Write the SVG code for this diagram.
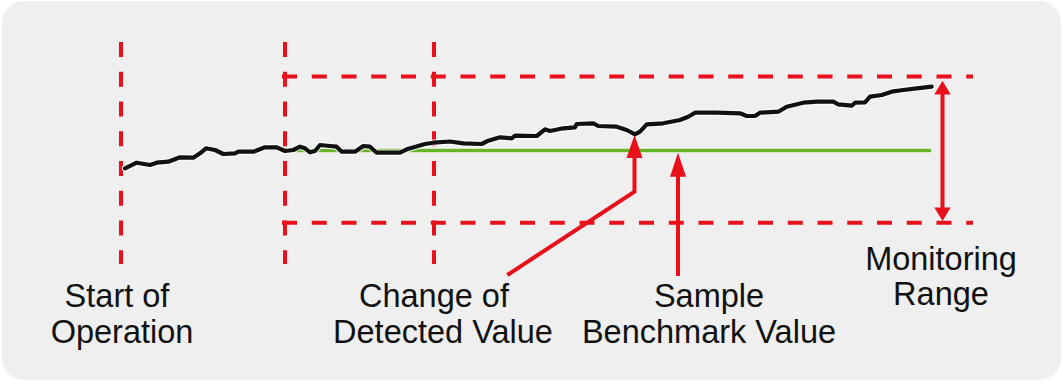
<svg xmlns="http://www.w3.org/2000/svg" width="1063" height="387" viewBox="0 0 1063 387">
  <defs>
    <style>
      .dash { stroke: #e8101a; stroke-width: 4; stroke-dasharray: 15 14.75; fill: none; }
      .arr { stroke: #e8101a; stroke-width: 4; fill: none; stroke-linejoin: miter; }
      .head { fill: #e8101a; }
      .lbl { font-family: "Liberation Sans", Arial, sans-serif; font-size: 32.5px; fill: #111; text-anchor: middle; }
      .halo { stroke: #ffffff; stroke-width: 6.5; fill: none; stroke-linejoin: round; stroke-linecap: round; opacity: 0.8; }
      .sig { stroke: #111111; stroke-width: 4.2; fill: none; stroke-linejoin: round; stroke-linecap: round; }
    </style>
  </defs>
  <rect x="2" y="1" width="1059" height="379" rx="22" ry="22" fill="#eeefee"/>

  <g id="guides">
    <line class="dash" x1="121" y1="42" x2="121" y2="264"/>
    <line class="dash" x1="285" y1="42" x2="285" y2="264"/>
    <line class="dash" x1="434" y1="42" x2="434" y2="264"/>
    <line class="dash" x1="282" y1="76.5" x2="973" y2="76.5"/>
    <line class="dash" x1="282" y1="222.7" x2="973" y2="222.7"/>
  </g>

  <g id="benchmark">
    <line x1="285" y1="150.5" x2="931" y2="150.5" stroke="#ffffff" stroke-width="5.5" opacity="0.6"/>
    <line x1="285" y1="150.5" x2="931" y2="150.5" stroke="#66b42a" stroke-width="3.6"/>
  </g>

  <g id="signal">
    <polyline class="halo" points="125,168.3 136.7,162.7 150,165 156.7,162.7 168.3,161.7 180,157.3 193.3,157.7 200,153.3 206,148.3 215,150 223.3,154 235,153.3 238.3,151.7 253.3,151.7 265,147.3 276.7,147.3 285,151 293.3,150 300,146.7 305,148.3 310,152.3 315,151 320,145 330,146 336.7,146.7 341.7,151.7 355,151.7 363.3,146 370,146.7 376.7,152.7 400,152.7 406.7,149.3 425,144 433.3,142.7 450,141.5 463.3,143.3 481.7,144 488.3,140.7 500,137.3 511.7,138.3 515,135.7 536.7,136 545,129.3 550,131 563.3,128.3 575,127.3 576.7,124 593.3,123.3 598.3,126 616.7,126.7 626.7,130 635,134.3 640,131.7 646.7,124.3 663.3,123.3 680,120 688.3,116.7 695,112.7 716.7,112.7 740,113.3 746.7,116 755,116 760,112.7 778.3,111.7 786.7,106.7 803.3,102.7 816.7,101.7 833.3,101.7 838.3,104.3 851.7,105.7 855,102.7 865,102.3 870,96.7 881.7,95 891.7,91.7 903.3,90 916.7,88.3 931.7,86.7"/>
    <polyline class="sig" points="125,168.3 136.7,162.7 150,165 156.7,162.7 168.3,161.7 180,157.3 193.3,157.7 200,153.3 206,148.3 215,150 223.3,154 235,153.3 238.3,151.7 253.3,151.7 265,147.3 276.7,147.3 285,151 293.3,150 300,146.7 305,148.3 310,152.3 315,151 320,145 330,146 336.7,146.7 341.7,151.7 355,151.7 363.3,146 370,146.7 376.7,152.7 400,152.7 406.7,149.3 425,144 433.3,142.7 450,141.5 463.3,143.3 481.7,144 488.3,140.7 500,137.3 511.7,138.3 515,135.7 536.7,136 545,129.3 550,131 563.3,128.3 575,127.3 576.7,124 593.3,123.3 598.3,126 616.7,126.7 626.7,130 635,134.3 640,131.7 646.7,124.3 663.3,123.3 680,120 688.3,116.7 695,112.7 716.7,112.7 740,113.3 746.7,116 755,116 760,112.7 778.3,111.7 786.7,106.7 803.3,102.7 816.7,101.7 833.3,101.7 838.3,104.3 851.7,105.7 855,102.7 865,102.3 870,96.7 881.7,95 891.7,91.7 903.3,90 916.7,88.3 931.7,86.7"/>
  </g>

  <g id="connectors">
    <polyline class="arr" points="507.3,275 634.5,191.7 634.5,156"/>
    <polygon class="head" points="634.5,135 626.5,158 642.5,158"/>
    <line class="arr" x1="678" y1="276" x2="678" y2="175"/>
    <polygon class="head" points="678,152.7 670,176.7 686,176.7"/>
    <line class="arr" x1="942.5" y1="93" x2="942.5" y2="209"/>
    <polygon class="head" points="942.5,80.7 934.3,94.5 950.7,94.5"/>
    <polygon class="head" points="942.5,221 934.3,207.5 950.7,207.5"/>
  </g>

  <g id="label-start">
    <text class="lbl" x="117" y="307">Start of</text>
    <text class="lbl" x="122" y="343">Operation</text>
  </g>
  <g id="label-change">
    <text class="lbl" x="434" y="307">Change of</text>
    <text class="lbl" x="443" y="343">Detected Value</text>
  </g>
  <g id="label-sample">
    <text class="lbl" x="709" y="307">Sample</text>
    <text class="lbl" x="709" y="343">Benchmark Value</text>
  </g>
  <g id="label-monitoring">
    <text class="lbl" x="941" y="270">Monitoring</text>
    <text class="lbl" x="941" y="305">Range</text>
  </g>
</svg>
